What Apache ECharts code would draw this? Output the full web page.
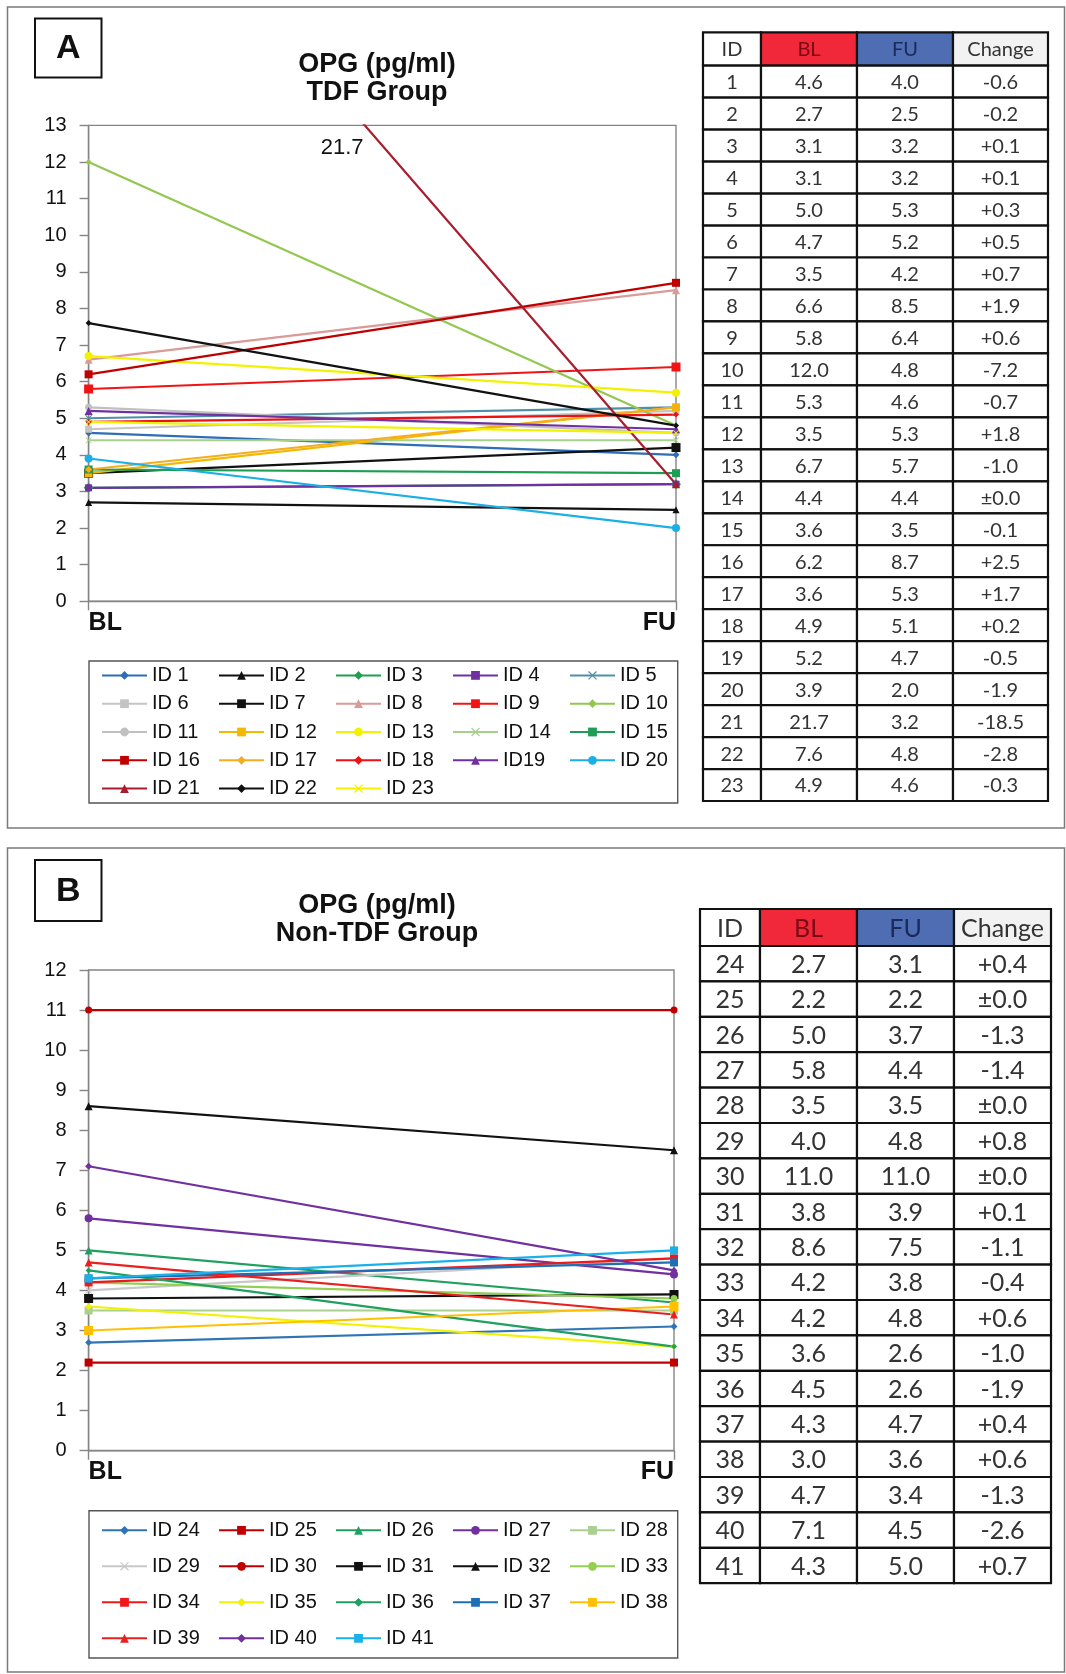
<!DOCTYPE html>
<html>
<head>
<meta charset="utf-8">
<script src="https://cdn.jsdelivr.net/npm/echarts@6/dist/echarts.min.js"></script>
<style>
  html, body { margin: 0; padding: 0; background: #ffffff; }
  #main { width: 1066px; height: 1674px; }
</style>
</head>
<body>
<div id="main"></div>
<script>
// ---- data ----
const categories = ['BL', 'FU'];

// Panel A: TDF group
const namesA = ['ID 1', 'ID 2', 'ID 3', 'ID 4', 'ID 5', 'ID 6', 'ID 7', 'ID 8', 'ID 9', 'ID 10',
  'ID 11', 'ID 12', 'ID 13', 'ID 14', 'ID 15', 'ID 16', 'ID 17', 'ID 18', 'ID19', 'ID 20',
  'ID 21', 'ID 22', 'ID 23'];
const rowIdsA = [1, 2, 3, 4, 5, 6, 7, 8, 9, 10, 11, 12, 13, 14, 15, 16, 17, 18, 19, 20, 21, 22, 23];
const blA = [4.6, 2.7, 3.1, 3.1, 5.0, 4.7, 3.5, 6.6, 5.8, 12.0, 5.3, 3.5, 6.7, 4.4, 3.6, 6.2, 3.6, 4.9, 5.2, 3.9, 21.7, 7.6, 4.9];
const fuA = [4.0, 2.5, 3.2, 3.2, 5.3, 5.2, 4.2, 8.5, 6.4, 4.8, 4.6, 5.3, 5.7, 4.4, 3.5, 8.7, 5.3, 5.1, 4.7, 2.0, 3.2, 4.8, 4.6];
const yMaxA = 13;

// Panel B: non-TDF group
const namesB = ['ID 24', 'ID 25', 'ID 26', 'ID 27', 'ID 28', 'ID 29', 'ID 30', 'ID 31', 'ID 32', 'ID 33',
  'ID 34', 'ID 35', 'ID 36', 'ID 37', 'ID 38', 'ID 39', 'ID 40', 'ID 41'];
const rowIdsB = [24, 25, 26, 27, 28, 29, 30, 31, 32, 33, 34, 35, 36, 37, 38, 39, 40, 41];
const blB = [2.7, 2.2, 5.0, 5.8, 3.5, 4.0, 11.0, 3.8, 8.6, 4.2, 4.2, 3.6, 4.5, 4.3, 3.0, 4.7, 7.1, 4.3];
const fuB = [3.1, 2.2, 3.7, 4.4, 3.5, 4.8, 11.0, 3.9, 7.5, 3.8, 4.8, 2.6, 2.6, 4.7, 3.6, 3.4, 4.5, 5.0];
const yMaxB = 12;

const tableHeader = ['ID', 'BL', 'FU', 'Change'];
const titleA = 'OPG (pg/ml)\nTDF Group';
const titleB = 'OPG (pg/ml)\nNon-TDF Group';

// ---- styles ----
const CROSS = 'path://M1,0L5,4L9,0L10,1L6,5L10,9L9,10L5,6L1,10L0,9L4,5L0,1Z';
const colorsA = ['#2f6db5', '#111111', '#1fa050', '#7030a0', '#4f8fa8', '#c4c4c4', '#111111', '#d99a98',
  '#f01414', '#92c850', '#c0c0c0', '#f5b800', '#f2f200', '#a8d08d', '#1e9e55', '#c00000',
  '#f5ad1e', '#ee1111', '#7030a0', '#1aafe6', '#a81c2c', '#111111', '#f2f200'];
const symbolsA = ['diamond', 'triangle', 'diamond', 'rect', CROSS, 'rect', 'rect', 'triangle',
  'rect', 'diamond', 'circle', 'rect', 'circle', CROSS, 'rect', 'rect',
  'diamond', 'diamond', 'triangle', 'circle', 'triangle', 'diamond', CROSS];
const sizesA = [7, 7, 10, 7, 7, 7, 9, 8, 9, 6, 7, 8, 8, 6, 8, 8, 7, 6, 8, 8, 8, 6, 6];

const colorsB = ['#2f75b5', '#c00000', '#1fa060', '#7030a0', '#a9d08e', '#c8c8c8', '#c00000', '#111111',
  '#111111', '#92d050', '#f01818', '#f2f200', '#1fa060', '#1f6fb5', '#ffc000', '#e82020',
  '#7030a0', '#1ab0ea'];
const symbolsB = ['diamond', 'rect', 'triangle', 'circle', 'rect', CROSS, 'circle', 'rect',
  'triangle', 'circle', 'rect', 'diamond', 'diamond', 'rect', 'rect', 'triangle',
  'diamond', 'rect'];
const sizesB = [7, 8, 8, 8, 8, 7, 7, 9, 8, 7, 8, 7, 6, 8, 9, 8, 7, 8];

const FONT = '"Liberation Sans", Arial, sans-serif';
const TABLE_FONT = 'Lato, Carlito, Calibri, sans-serif';

function makeSeries(names, bl, fu, colors, symbols, sizes, gridIdx) {
  return names.map((n, i) => ({
    name: n,
    type: 'line',
    xAxisIndex: gridIdx,
    yAxisIndex: gridIdx,
    data: [bl[i], fu[i]],
    symbol: symbols[i],
    symbolSize: sizes[i],
    showAllSymbol: true,
    clip: true,
    color: colors[i],
    lineStyle: { width: 2.2, color: colors[i] },
    itemStyle: { color: colors[i] },
    emphasis: { disabled: true },
    silent: true
  }));
}

function yAxis(gridIdx, max) {
  return {
    type: 'value', gridIndex: gridIdx, min: 0, max: max, interval: 1,
    axisLine: { show: true, lineStyle: { color: '#858585', width: 1.4 } },
    axisTick: { show: true, inside: false, length: 9, lineStyle: { color: '#858585', width: 1.4 } },
    axisLabel: { fontFamily: FONT, fontSize: 20, color: '#111', margin: 22 },
    splitLine: { show: false }
  };
}

function xAxis(gridIdx) {
  return {
    type: 'category', gridIndex: gridIdx, data: categories, boundaryGap: false,
    axisLine: { show: true, onZero: false, lineStyle: { color: '#858585', width: 1.4 } },
    axisTick: { show: true, length: 9, lineStyle: { color: '#858585', width: 1.4 } },
    axisLabel: {
      fontFamily: FONT, fontSize: 25, fontWeight: 'bold', color: '#111',
      margin: 9, alignMinLabel: 'left', alignMaxLabel: 'right'
    },
    splitLine: { show: false }
  };
}

function legend(names, top, lineHeight, padTB) {
  return {
    data: names, orient: 'horizontal', left: 89, top: top, width: 600,
    padding: [padTB, 0, padTB, 12],
    itemWidth: 45, itemHeight: 11, itemGap: 8.3,
    selectedMode: false,
    borderColor: '#555', borderWidth: 1.4,
    lineStyle: { width: 2 },
    textStyle: { fontFamily: FONT, fontSize: 20, color: '#111', width: 57.7, overflow: 'none', lineHeight: lineHeight }
  };
}

function changeText(bl, fu) {
  const d = Math.round((fu - bl) * 10) / 10;
  if (d > 0) return '+' + d.toFixed(1);
  if (d < 0) return d.toFixed(1);
  return '\u00b10.0';
}

function makeTable(xs, top, headH, rowH, ids, bl, fu, fontSize) {
  const els = [];
  const headFill = ['#ffffff', '#f0283a', '#4f6db3', '#f2f2f2'];
  const headColor = ['#333333', '#7a0a14', '#1c2a5a', '#333333'];
  const cellText = (x, y, w, h, text, color) => ({
    type: 'text', x: x + w / 2, y: y + h / 2 + 1, silent: true,
    style: {
      text: text, fill: color, font: fontSize + 'px ' + TABLE_FONT,
      align: 'center', verticalAlign: 'middle', textAlign: 'center', textVerticalAlign: 'middle'
    }
  });
  for (let c = 0; c < 4; c++) {
    const w = xs[c + 1] - xs[c];
    els.push({ type: 'rect', silent: true, shape: { x: xs[c], y: top, width: w, height: headH },
      style: { fill: headFill[c], stroke: '#111', lineWidth: 2.2 } });
    els.push(cellText(xs[c], top, w, headH, tableHeader[c], headColor[c]));
  }
  for (let r = 0; r < ids.length; r++) {
    const y = top + headH + r * rowH;
    const vals = [String(ids[r]), bl[r].toFixed(1), fu[r].toFixed(1), changeText(bl[r], fu[r])];
    for (let c = 0; c < 4; c++) {
      const w = xs[c + 1] - xs[c];
      els.push({ type: 'rect', silent: true, shape: { x: xs[c], y: y, width: w, height: rowH },
        style: { fill: '#ffffff', stroke: '#111', lineWidth: 2.2 } });
      els.push(cellText(xs[c], y, w, rowH, vals[c], '#333333'));
    }
  }
  return els;
}

function panelBox(x, y, w, h) {
  return { type: 'rect', silent: true, z: -10, shape: { x: x, y: y, width: w, height: h },
    style: { fill: '#ffffff', stroke: '#7a7a7a', lineWidth: 1.5 } };
}

function letterBox(x, y, w, h, letter) {
  return [
    { type: 'rect', silent: true, shape: { x: x, y: y, width: w, height: h },
      style: { fill: '#ffffff', stroke: '#111', lineWidth: 2 } },
    { type: 'text', silent: true, x: x + w / 2, y: y + h / 2 + 1,
      style: { text: letter, fill: '#111', font: 'bold 34px ' + FONT,
        align: 'center', verticalAlign: 'middle', textAlign: 'center', textVerticalAlign: 'middle' } }
  ];
}

const chart = echarts.init(document.getElementById('main'), null, { renderer: 'canvas' });

function buildOption(extraGraphic) {
  return {
    animation: false,
    backgroundColor: '#ffffff',
    title: [
      { text: titleA, left: 377, top: 50, textAlign: 'center', padding: 0,
        textStyle: { fontFamily: FONT, fontSize: 27, fontWeight: 'bold', color: '#111', lineHeight: 28.5 } },
      { text: titleB, left: 377, top: 891, textAlign: 'center', padding: 0,
        textStyle: { fontFamily: FONT, fontSize: 27, fontWeight: 'bold', color: '#111', lineHeight: 28.5 } }
    ],
    grid: [
      { left: 88.6, top: 125.4, width: 587.4, height: 475.9, show: true, borderColor: '#858585', borderWidth: 1.4, backgroundColor: 'transparent' },
      { left: 88.6, top: 970, width: 585.4, height: 480.7, show: true, borderColor: '#858585', borderWidth: 1.4, backgroundColor: 'transparent' }
    ],
    xAxis: [xAxis(0), xAxis(1)],
    yAxis: [yAxis(0, yMaxA), yAxis(1, yMaxB)],
    legend: [legend(namesA, 661, 20, 4.4), legend(namesB, 1510.7, 27.7, 5.8)],
    tooltip: { show: false },
    series: makeSeries(namesA, blA, fuA, colorsA, symbolsA, sizesA, 0)
      .concat(makeSeries(namesB, blB, fuB, colorsB, symbolsB, sizesB, 1)),
    graphic: { elements: [
      panelBox(7.5, 7, 1057, 821),
      panelBox(7.5, 848, 1057, 824)
    ].concat(letterBox(35, 18.5, 66.5, 59, 'A'))
     .concat(letterBox(35, 860, 66.5, 61, 'B'))
     .concat(makeTable([703, 761, 857, 953, 1048], 32.3, 33.4, 31.97, rowIdsA, blA, fuA, 20))
     .concat(makeTable([700, 760, 857, 954, 1051], 909, 37, 35.4, rowIdsB, blB, fuB, 25))
     .concat(extraGraphic || []) }
  };
}

chart.setOption(buildOption());

// Value label for the off-scale baseline of the largest series in panel A,
// placed beside its line just below the top of the plot area.
(function () {
  let k = 0;
  for (let i = 1; i < blA.length; i++) if (blA[i] > blA[k]) k = i;
  const p0 = chart.convertToPixel({ gridIndex: 0 }, [0, blA[k]]);
  const p1 = chart.convertToPixel({ gridIndex: 0 }, [1, fuA[k]]);
  const yAt = chart.convertToPixel({ gridIndex: 0 }, [0, yMaxA - 0.62])[1];
  const t = (yAt - p0[1]) / (p1[1] - p0[1]);
  const xAt = p0[0] + t * (p1[0] - p0[0]);
  const label = {
    type: 'text', silent: true, x: xAt - 21, y: yAt,
    style: { text: blA[k].toFixed(1), fill: '#111', font: '22px ' + FONT,
      align: 'right', verticalAlign: 'middle', textAlign: 'right', textVerticalAlign: 'middle' }
  };
  chart.setOption(buildOption([label]), true);
})();
</script>
</body>
</html>
